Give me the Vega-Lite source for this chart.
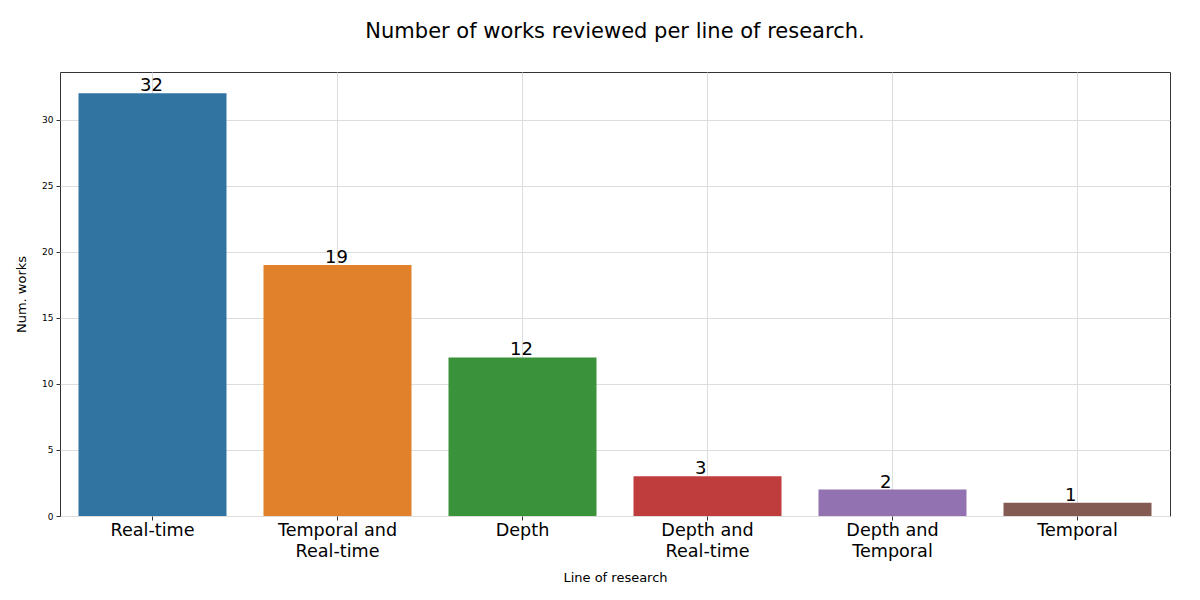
{
  "$schema": "https://vega.github.io/schema/vega-lite/v6.json",
  "width": 1110,
  "height": 444,
  "autosize": {"type": "none"},
  "padding": {"left": 60, "top": 72, "right": 30, "bottom": 84},
  "background": "white",
  "title": {
    "text": "Number of works reviewed per line of research.",
    "font": "DejaVu Sans",
    "fontSize": 21,
    "fontWeight": "normal",
    "color": "#000000",
    "offset": 30
  },
  "config": {
    "view": {"stroke": "#333333", "strokeWidth": 1},
    "font": "DejaVu Sans"
  },
  "data": {
    "values": [
      {"line": "Real-time", "works": 32},
      {"line": "Temporal and Real-time", "works": 19},
      {"line": "Depth", "works": 12},
      {"line": "Depth and Real-time", "works": 3},
      {"line": "Depth and Temporal", "works": 2},
      {"line": "Temporal", "works": 1}
    ]
  },
  "encoding": {
    "x": {
      "field": "line",
      "type": "nominal",
      "sort": null,
      "scale": {"paddingInner": 0.2, "paddingOuter": 0.1},
      "axis": {
        "title": "Line of research",
        "titleFont": "DejaVu Sans",
        "titleFontSize": 13,
        "titleFontWeight": "normal",
        "titleColor": "#000000",
        "titlePadding": 12,
        "labelExpr": "split(replace(datum.label, ' and ', ' and|'), '|')",
        "labelFont": "DejaVu Sans",
        "labelFontSize": 17.6,
        "labelColor": "#000000",
        "labelAngle": 0,
        "labelPadding": 1,
        "labelLineHeight": 21,
        "labelBaseline": "top",
        "grid": true,
        "gridColor": "#dddddd",
        "bandPosition": 0.5,
        "domain": false,
        "tickColor": "#333333",
        "tickSize": 4
      }
    },
    "y": {
      "field": "works",
      "type": "quantitative",
      "scale": {"domain": [0, 33.6], "nice": false, "zero": true},
      "axis": {
        "title": "Num. works",
        "titleFont": "DejaVu Sans",
        "titleFontSize": 13,
        "titleFontWeight": "normal",
        "titleColor": "#000000",
        "titlePadding": 13,
        "values": [0, 5, 10, 15, 20, 25, 30],
        "labelFont": "DejaVu Sans",
        "labelFontSize": 9,
        "labelColor": "#000000",
        "labelPadding": 3,
        "grid": true,
        "gridColor": "#dddddd",
        "domain": false,
        "tickColor": "#333333",
        "tickSize": 4
      }
    }
  },
  "layer": [
    {
      "mark": {"type": "bar"},
      "encoding": {
        "color": {
          "field": "line",
          "type": "nominal",
          "sort": null,
          "legend": null,
          "scale": {
            "domain": ["Real-time", "Temporal and Real-time", "Depth", "Depth and Real-time", "Depth and Temporal", "Temporal"],
            "range": ["#3274a1", "#e1812c", "#3a923a", "#c03d3e", "#9372b2", "#845b53"]
          }
        }
      }
    },
    {
      "mark": {"type": "text", "font": "DejaVu Sans", "fontSize": 18, "baseline": "alphabetic", "align": "left", "color": "#000000", "dx": -12.5, "dy": -2},
      "encoding": {
        "text": {"field": "works", "type": "quantitative"}
      }
    }
  ]
}
